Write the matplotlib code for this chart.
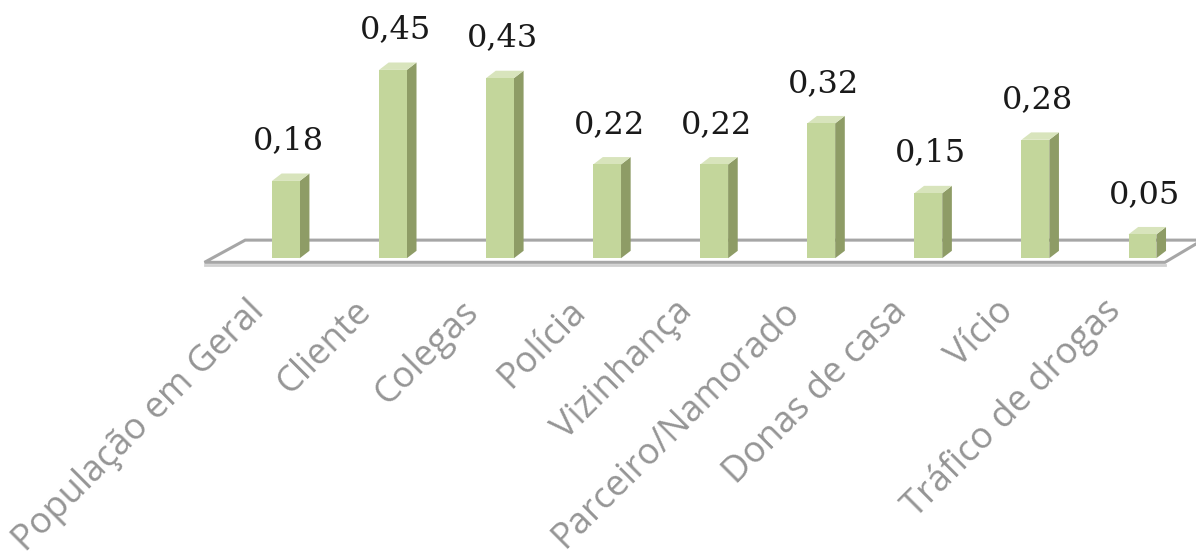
import numpy as np
import matplotlib
matplotlib.use("Agg")
from matplotlib import pyplot as plt
from matplotlib.patches import Polygon

# Data
categories = ["População em Geral", "Cliente", "Colegas", "Polícia", "Vizinhança",
              "Parceiro/Namorado", "Donas de casa", "Vício", "Tráfico de drogas"]
values = [0.18, 0.45, 0.43, 0.22, 0.22, 0.32, 0.15, 0.28, 0.05]
value_labels = ["0,18", "0,45", "0,43", "0,22", "0,22", "0,32", "0,15", "0,28", "0,05"]

# Colours
front_col = "#c3d69b"
side_col = "#8e9c66"
top_col = "#d8e4bc"

fig = plt.figure(figsize=(11.96, 5.6), dpi=100)
ax = fig.add_axes([0, 0, 1, 1])
ax.set_xlim(-2.67, 8.5)
ax.set_ylim(-0.742, 0.62)
ax.axis("off")

x = np.arange(len(values))
width = 0.26
dx, dy = 0.09, 0.018   # depth offset of the 3D look
base = -0.008

# Floor (thin white slab with grey edges)
n = len(values)
fl, fr = -0.76, n - 0.79
floor_front = -0.018
floor_back = 0.036
floor = Polygon([(fl, floor_front), (fr, floor_front), (fr + 0.35, floor_back), (fl + 0.38, floor_back)],
                closed=True, facecolor="white", edgecolor="#a6a6a6", lw=2.2, zorder=1)
ax.add_patch(floor)
ax.plot([fl, fr], [floor_front - 0.006, floor_front - 0.006], color="#d0d0d0", lw=2, zorder=0.9)

# Bars
bars = ax.bar(x, np.array(values) - base, bottom=base, width=width, color=front_col,
              edgecolor="none", zorder=3)
for xi, v in zip(x, values):
    r = xi + width / 2
    l = xi - width / 2
    side = Polygon([(r, base), (r + dx, base + dy), (r + dx, v + dy), (r, v)],
                   closed=True, facecolor=side_col, edgecolor="none", zorder=2.9)
    top = Polygon([(l, v), (r, v), (r + dx, v + dy), (l + dx, v + dy)],
                  closed=True, facecolor=top_col, edgecolor="none", zorder=2.9)
    ax.add_patch(side)
    ax.add_patch(top)

# Value labels
for xi, v, lab in zip(x, values, value_labels):
    ax.text(xi + 0.02, v + 0.06, lab, ha="center", va="bottom", fontsize=23,
            family="DejaVu Serif", color="#1a1a1a")

# Category labels
for xi, cat in zip(x, categories):
    ax.text(xi - 0.19, -0.14, cat, rotation=45, rotation_mode="anchor",
            ha="right", va="baseline", fontsize=26, family="Open Sans",
            color="#959595")

fig.savefig("out.png", dpi=100)
